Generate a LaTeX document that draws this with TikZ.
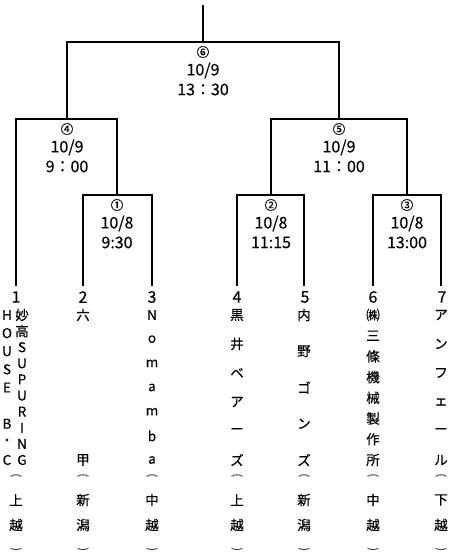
\documentclass[tikz,border=0pt]{standalone}
\usepackage{graphicx}
\usepackage{fontspec}
\setmainfont{Noto Sans CJK JP}[FakeBold=0.3]
\begin{document}
\begin{tikzpicture}[x=1pt,y=-1pt]
\tikzset{
  bracket/.style={draw=black, line width=1.2pt},
  lbl/.style={inner sep=0pt, font=\fontsize{16}{16}\selectfont},
  circ/.style={inner sep=0pt, font=\fontsize{12.5}{12.5}\selectfont},
  ch/.style={inner sep=0pt, font=\fontsize{13.5}{13.5}\selectfont},
  paren/.style={inner sep=0pt, text=black!70, font=\fontsize{11}{11}\selectfont},
}
\useasboundingbox (0,0) rectangle (450,556);
% bracket corners
\coordinate (top) at (203,5);
\coordinate (m6) at (203,42);
\coordinate (m4) at (67,119);
\coordinate (m5) at (339,119);
\coordinate (m1) at (117,195);
\coordinate (m2) at (271,195);
\coordinate (m3) at (407,195);
\coordinate (l1) at (16,286);
\coordinate (l2) at (83,286);
\coordinate (l3) at (152,286);
\coordinate (l4) at (237,286);
\coordinate (l5) at (304,286);
\coordinate (l6) at (373,286);
\coordinate (l7) at (441,286);
% connectors
\draw[bracket] (top) -- (m6);
\draw[bracket] (m4) |- (m6) -| (m5);
\draw[bracket] (l1) |- (m4) -| (m1);
\draw[bracket] (m2) |- (m5) -| (m3);
\draw[bracket] (l2) |- (m1) -| (l3);
\draw[bracket] (l4) |- (m2) -| (l5);
\draw[bracket] (l6) |- (m3) -| (l7);
% match labels
\newcommand\matchlbl[4]{%
  \node[circ] (#1c) at ([yshift=-10pt]#1) {#2};
  \node[lbl]  (#1d) at ([yshift=-28.5pt]#1) {#3};
  \node[lbl]  (#1t) at ([yshift=-47.5pt]#1) {#4};}
\matchlbl{m6}{⑥}{10/9}{13：30}
\matchlbl{m4}{④}{10/9}{9：00}
\matchlbl{m5}{⑤}{10/9}{11：00}
\matchlbl{m1}{①}{10/8}{9:30}
\matchlbl{m2}{②}{10/8}{11:15}
\matchlbl{m3}{③}{10/8}{13:00}
% team numbers
\node[lbl] (n1) at (16,297) {1};
\node[lbl] (n2) at (83,297) {2};
\node[lbl] (n3) at (152,297) {3};
\node[lbl] (n4) at (237,297) {4};
\node[lbl] (n5) at (305,297) {5};
\node[lbl] (n6) at (373,297) {6};
\node[lbl] (n7) at (442,297) {7};
% distributed vertical team names
\newcommand\distcol[4]{%
  \foreach \c [count=\i] in {#4} {%
    \node[ch] (#1-\i) at (#2,{315+(\i-1)*145/(#3-1)}) {\c};}}
\distcol{t1a}{7}{9}{H,O,U,S,E,{},B,・,C}
\distcol{t1b}{22}{10}{妙,高,S,U,P,U,R,I,N,G}
\distcol{t2}{83}{2}{六,甲}
\distcol{t3}{152}{7}{N,o,m,a,m,b,a}
\distcol{t4}{237}{6}{黒,井,ベ,ア,ー,ズ}
\distcol{t5}{304}{5}{内,野,ゴ,ン,ズ}
\distcol{t6}{373}{8}{㈱,三,條,機,械,製,作,所}
\distcol{t7}{441}{6}{ア,ン,フ,ェ,ー,ル}
% regions
\newcommand\region[4]{%
  \node[paren] (#1o) at (#2,476) {\rotatebox[origin=c]{-90}{(}};
  \node[ch] (#1a) at (#2,500) {#3};
  \node[ch] (#1b) at (#2,525) {#4};
  \node[paren] (#1e) at (#2,550) {\rotatebox[origin=c]{-90}{)}};}
\region{r1}{16}{上}{越}
\region{r2}{83}{新}{潟}
\region{r3}{152}{中}{越}
\region{r4}{237}{上}{越}
\region{r5}{304}{新}{潟}
\region{r6}{373}{中}{越}
\region{r7}{441}{下}{越}
\end{tikzpicture}
\end{document}
